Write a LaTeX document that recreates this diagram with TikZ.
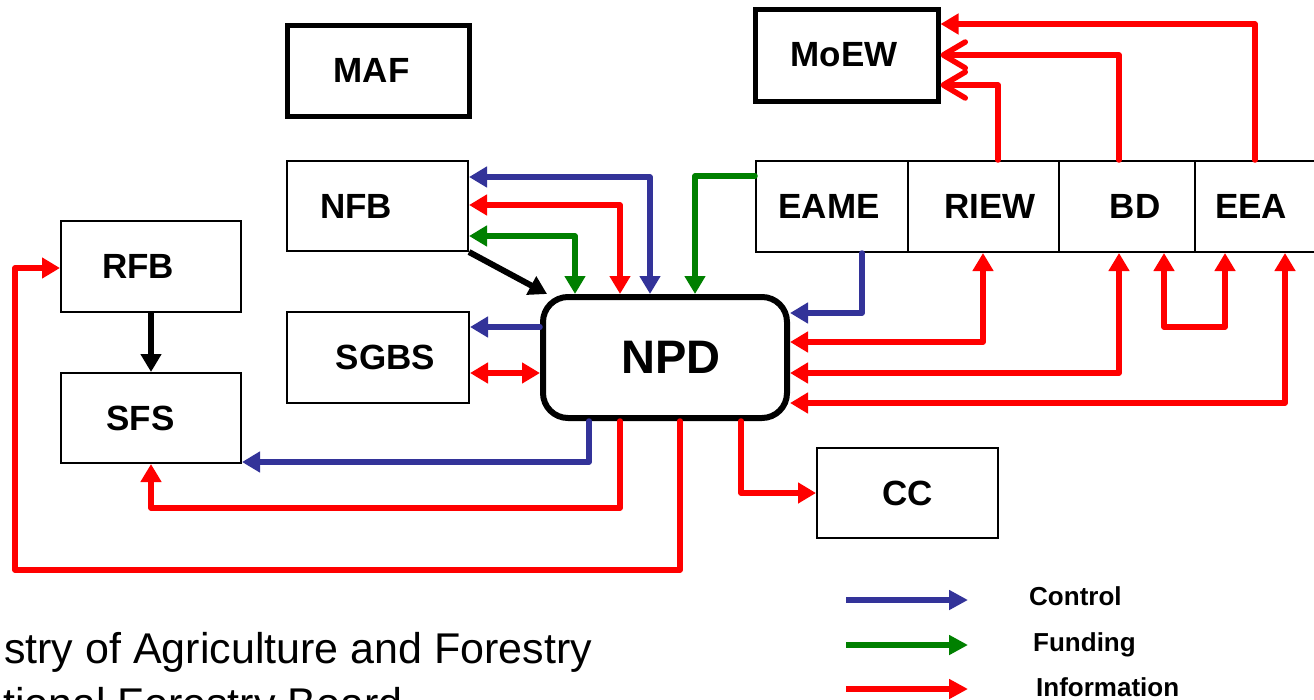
\documentclass[tikz,border=0pt]{standalone}
\usepackage{fontspec}
\setmainfont{Liberation Sans}
\usetikzlibrary{arrows.meta}
\definecolor{cblue}{HTML}{333399}
\definecolor{cgreen}{HTML}{008000}
\definecolor{cred}{HTML}{FF0000}
\begin{document}
\begin{tikzpicture}[x=1pt,y=-1pt,
  >={Triangle[length=18pt,width=20pt]},
  box/.style={draw, line width=2pt, rectangle, inner sep=0pt,
    font=\fontsize{35}{40}\selectfont\bfseries},
  thickbox/.style={box, line width=5pt},
  conn/.style={line width=5.5pt, line join=round, line cap=round},
  ctrl/.style={conn, draw=cblue},
  fund/.style={conn, draw=cgreen},
  info/.style={conn, draw=cred},
  blk/.style={conn, line width=6pt, draw=black, line cap=butt},
  barb/.style={-{Straight Barb[length=22pt,width=26pt,round]}},
  legline/.style={line width=6pt, ->, >={Triangle[length=19pt,width=19pt]}},
  legtext/.style={anchor=base west, inner sep=0pt, font=\fontsize{26}{30}\selectfont\bfseries},
  foot/.style={anchor=base west, inner sep=0pt, font=\fontsize{43}{55}\selectfont}
]
\useasboundingbox (0,0) rectangle (1314,699);
\clip (0,0) rectangle (1314,699);

% boxes
\node[thickbox, minimum width=182pt, minimum height=91pt] (maf) at (378,70.5) {MAF\hspace*{13pt}};
\node[thickbox, minimum width=183pt, minimum height=92pt] (moew) at (846.5,55) {MoEW\hspace*{5pt}};
\node[box, minimum width=181pt, minimum height=90pt] (nfb) at (377.5,206) {NFB\hspace*{43pt}};
\node[box, minimum width=180pt, minimum height=91pt] (rfb) at (151,266.5) {RFB\hspace*{26pt}};
\node[box, minimum width=180pt, minimum height=90pt] (sfs) at (151,418) {SFS\hspace*{21pt}};
\node[box, minimum width=182pt, minimum height=91pt] (sgbs) at (378,357.5) {\hspace*{15pt}SGBS};
\node[draw, line width=6pt, rounded corners=25pt, inner sep=0pt,
      minimum width=244pt, minimum height=121pt,
      font=\fontsize{47}{50}\selectfont\bfseries] (npd) at (665,357.5) {\hspace*{12pt}NPD};
\node[box, minimum width=152pt, minimum height=91pt] (eame) at (832,206.5) {EAME\hspace*{6pt}};
\node[box, minimum width=151pt, minimum height=91pt] (riew) at (983.5,206.5) {\hspace*{13pt}RIEW};
\node[box, minimum width=136pt, minimum height=91pt] (bd) at (1127,206.5) {\hspace*{16pt}BD};
\node[box, minimum width=125pt, minimum height=91pt] (eea) at (1257.5,206.5) {EEA\hspace*{13pt}};
\node[box, minimum width=181pt, minimum height=90pt] (cc) at (907.5,493) {CC};

% NFB <-> NPD
\draw[ctrl,<->] (nfb.east |- 0,177) -| (npd.north -| 650,0);
\draw[info,<->] (nfb.east |- 0,205) -| (npd.north -| 620,0);
\draw[fund,<->] (nfb.east |- 0,236) -| (npd.north -| 575,0);
\draw[fund,->] (eame.west |- 0,176) -| (npd.north -| 695,0);
\draw[blk,->] (nfb.south east) -- (npd);
\draw[blk,->] (rfb.south) -- (sfs.north);

% SGBS
\draw[ctrl,->] (npd.west |- 0,327) -- (sgbs.east |- 0,327);
\draw[info,<->] (sgbs.east |- 0,373) -- (npd.west |- 0,373);

% NPD bottom
\draw[ctrl,->] (npd.south -| 589,0) |- (sfs.east |- 0,462);
\draw[info,->] (npd.south -| 620,0) -- (620,508) -| (sfs.south);
\draw[info,->] (npd.south -| 680,0) -- (680,570) -- (15,570) -- (15,268) -- (rfb.west |- 0,268);
\draw[info,->] (npd.south -| 741,0) |- (cc.west);

% right side
\draw[ctrl,->] (eame.south -| 862,0) |- (npd.east |- 0,313);
\draw[info,<->] (npd.east |- 0,342) -| (riew.south -| 983,0);
\draw[info,<->] (npd.east |- 0,373) -| (bd.south -| 1119,0);
\draw[info,<->] (npd.east |- 0,403) -| (eea.south -| 1285,0);
\draw[info,<->] (bd.south -| 1164,0) -- (1164,327) -- (1225,327) -- (eea.south -| 1225,0);

% to MoEW
\draw[info,barb] (riew.north -| 998,0) |- (moew.east |- 0,85);
\draw[info,barb] (bd.north -| 1119,0) |- (moew.east |- 0,55);
\draw[info,->] (eea.north -| 1255,0) |- (moew.east |- 0,24);

% legend
\coordinate (la1) at (846,600); \coordinate (lb1) at (968,600);
\coordinate (la2) at (846,645); \coordinate (lb2) at (968,645);
\coordinate (la3) at (846,689); \coordinate (lb3) at (968,689);
\draw[legline, draw=cblue] (la1) -- (lb1);
\draw[legline, draw=cgreen] (la2) -- (lb2);
\draw[legline, draw=cred] (la3) -- (lb3);
\node[legtext] (tctrl) at (1029,605) {Control};
\node[legtext] (tfund) at (1033,651) {Funding};
\node[legtext] (tinfo) at (1036,696) {Information};

% footer text
\node[foot] (f1) at (4,663) {stry of Agriculture and Forestry};
\node[foot] (f2) at (3,718) {tional Forestry Board};
\end{tikzpicture}
\end{document}
